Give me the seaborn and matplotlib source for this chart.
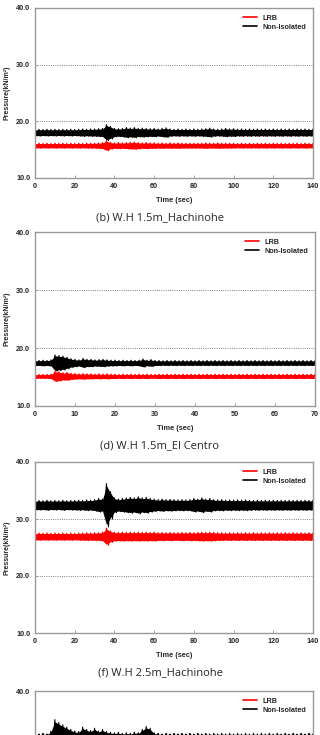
import numpy as np
import pandas as pd
import matplotlib
matplotlib.use("Agg")
import matplotlib.pyplot as plt
import seaborn as sns
from matplotlib.lines import Line2D

# 包络幅值 (kN/m²)
# Hachinohe: 每 2 秒一个值, El Centro: 每 1 秒一个值
hach15_lrb_mean = 15.7
hach15_non_mean = 18.0
hach15_non_amp = [.55, .60, .55, .60, .55, .60, .55, .60, .55, .60,
                  .55, .60, .65, .60, .65, .65, .70, .75, 1.40, 1.10,
                  .75, .70, .75, .90, .80, .90, .75, .80, .75, .70,
                  .75, .65, .75, .85, .65, .60, .65, .60, .65, .60,
                  .65, .60, .65, .70, .80, .65, .60, .65, .75, .65,
                  .70, .60, .65, .60, .65, .60, .65, .60, .65, .60,
                  .65, .60, .65, .60, .65, .60, .65, .60, .65, .60,
                  .65]
hach15_lrb_amp = [.40, .45, .40, .45, .40, .45, .40, .45, .40, .45,
                  .40, .45, .40, .45, .45, .45, .50, .55, .90, .60,
                  .50, .55, .50, .55, .60, .65, .55, .50, .55, .50,
                  .50, .45, .50, .45, .50, .45, .50, .45, .45, .45,
                  .45, .45, .45, .50, .45, .45, .50, .45, .45, .45,
                  .45, .40, .45, .40, .45, .40, .45, .40, .45, .40,
                  .45, .40, .45, .40, .45, .40, .45, .40, .45, .40,
                  .45]

elc15_lrb_mean = 15.1
elc15_non_mean = 17.4
elc15_non_amp = [.45, .45, .50, .45, .55, 1.40, 1.30, 1.20, 1.00, .75,
                 .65, .55, .80, .65, .65, .55, .60, .65, .55, .50,
                 .50, .45, .50, .45, .50, .45, .50, .70, .50, .60,
                 .45, .45, .40, .45, .40, .45, .40, .45, .40, .45,
                 .40, .45, .40, .45, .40, .45, .40, .45, .40, .45,
                 .40, .45, .40, .45, .40, .45, .40, .45, .40, .45,
                 .40, .45, .40, .45, .40, .45, .40, .45, .40, .45,
                 .40]
elc15_lrb_amp = [.35, .35, .35, .35, .40, .90, .80, .65, .70, .55,
                 .50, .45, .50, .45, .45, .40, .45, .40, .45, .40,
                 .40, .35, .40, .35, .40, .35, .40, .35, .40, .35,
                 .35, .40, .35, .40, .35, .40, .35, .40, .35, .40,
                 .35, .40, .35, .40, .35, .40, .35, .40, .35, .40,
                 .35, .40, .35, .40, .35, .40, .35, .40, .35, .40,
                 .35, .40, .35, .40, .35, .40, .35, .40, .35, .40,
                 .35]

hach25_lrb_mean = 26.9
hach25_non_mean = 32.4
hach25_non_amp = [.80, .85, .80, .90, .80, .85, .80, .90, .80, .85,
                  .85, .90, .85, .95, .90, 1.00, 1.20, 1.10, 3.80, 2.40,
                  1.30, 1.10, 1.20, 1.30, 1.40, 1.30, 1.50, 1.30, 1.40, 1.20,
                  1.10, 1.00, 1.10, 1.00, 1.05, 1.00, .95, 1.00, .95, 1.00,
                  1.20, 1.10, 1.30, 1.10, 1.20, 1.00, .95, 1.00, .90, .95,
                  .90, .95, .90, .95, .90, .85, .90, .85, .90, .85,
                  .90, .85, .90, .85, .90, .85, .90, .85, .90, .85,
                  .90]
hach25_lrb_amp = [.60, .65, .60, .65, .60, .65, .60, .65, .60, .65,
                  .60, .65, .65, .70, .65, .70, .70, .80, 1.50, 1.00,
                  .80, .75, .80, .75, .80, .75, .80, .75, .80, .75,
                  .80, .70, .75, .70, .75, .70, .70, .75, .70, .75,
                  .70, .75, .80, .75, .80, .75, .70, .70, .65, .70,
                  .65, .70, .65, .70, .65, .70, .65, .70, .65, .70,
                  .65, .70, .65, .70, .65, .70, .65, .70, .65, .70,
                  .65]

elc25_lrb_mean = 26.0
elc25_non_mean = 31.5
elc25_non_amp = [1.0, 1.0, 1.1, 1.0, 1.5, 3.5, 3.0, 2.6, 2.2, 1.8,
                 1.5, 1.4, 2.2, 1.8, 1.6, 2.0, 1.5, 1.8, 1.4, 1.3,
                 1.2, 1.3, 1.1, 1.2, 1.1, 1.3, 1.2, 1.8, 2.3, 2.0,
                 1.2, 1.1, 1.0, 1.1, 1.0, 1.1, 1.0, 1.1, 1.0, 1.1,
                 1.0, 1.1, 1.0, 1.1, 1.0, 1.1, 1.0, 1.1, 1.0, 1.1,
                 1.0, 1.1, 1.0, 1.1, 1.0, 1.1, 1.0, 1.1, 1.0, 1.1,
                 1.0, 1.1, 1.0, 1.1, 1.0, 1.1, 1.0, 1.1, 1.0, 1.1,
                 1.0]
elc25_lrb_amp = [.5, .5, .5, .5, .6, 1.6, 1.4, 1.1, 1.0, .9,
                 .8, .7, .9, .8, .7, .8, .7, .7, .6, .6,
                 .6, .6, .6, .6, .6, .6, .6, .8, .9, .8,
                 .6, .5, .6, .5, .6, .5, .6, .5, .6, .5,
                 .6, .5, .6, .5, .6, .5, .6, .5, .6, .5,
                 .6, .5, .6, .5, .6, .5, .6, .5, .6, .5,
                 .6, .5, .6, .5, .6, .5, .6, .5, .6, .5,
                 .6]

captions = ["(b) W.H 1.5m_Hachinohe", "(d) W.H 1.5m_El Centro",
            "(f) W.H 2.5m_Hachinohe", "(h) W.H 2.5m_El Centro"]
y_ticks = [10, 20, 30, 40]


def trace(mean, amp, step):
    # 上下包络交替连线，形成密集振荡带
    amp = np.asarray(amp)
    n = len(amp)
    t = np.repeat(np.arange(n) * step, 2) + np.tile([0, step / 2], n)
    v = mean + np.repeat(amp, 2) * np.tile([1, -1], n)
    return t, v


def draw_band(ax, mean, amp, step, color):
    amp = np.asarray(amp)
    tc = np.arange(len(amp)) * step
    ax.fill_between(tc, mean - 0.9 * amp, mean + 0.9 * amp, color=color, lw=0)
    t, v = trace(mean, amp, step)
    sns.lineplot(x=t, y=v, color=color, lw=0.8, ax=ax, estimator=None,
                 sort=False, legend=False)


sns.set_theme(style="white")
plt.rcParams['font.family'] = ['Liberation Sans', 'DejaVu Sans']

fig = plt.figure(figsize=(3.2, 7.35), dpi=100)
W, H = 320, 735

# (top px, bottom px, right px, xmax, xstep, lrb, non, step)
panels = [
    (8, 178, 313, 140, 20, (hach15_lrb_mean, hach15_lrb_amp), (hach15_non_mean, hach15_non_amp), 2),
    (232, 406, 315, 70, 10, (elc15_lrb_mean, elc15_lrb_amp), (elc15_non_mean, elc15_non_amp), 1),
    (462, 633, 313, 140, 20, (hach25_lrb_mean, hach25_lrb_amp), (hach25_non_mean, hach25_non_amp), 2),
    (691, 863, 313, 70, 10, (elc25_lrb_mean, elc25_lrb_amp), (elc25_non_mean, elc25_non_amp), 1),
]

handles = [Line2D([], [], color='red', lw=1.2), Line2D([], [], color='black', lw=1.2)]

left = 35
for i, (top, bot, right, xmax, xstep, lrb, non, step) in enumerate(panels):
    ax = fig.add_axes([left / W, 1 - bot / H, (right - left) / W, (bot - top) / H])
    draw_band(ax, lrb[0], lrb[1], step, 'red')
    draw_band(ax, non[0], non[1], step, 'black')

    ax.set_xlim(0, xmax)
    ax.set_ylim(10, 40)
    ax.set_xticks(range(0, xmax + 1, xstep))
    ax.set_yticks(y_ticks)
    for y in (20, 30):
        ax.axhline(y, color='#555555', lw=0.6, ls=':', zorder=0)
    for s in ax.spines.values():
        s.set_color('#999999')
        s.set_linewidth(1.0)
    ax.tick_params(direction='in', length=2, width=0.6, color='#999999',
                   labelsize=5.2, pad=3.5, bottom=True, left=True)
    last = i == len(panels) - 1
    if last:
        # 最后一个图被裁切，只露出顶部
        ax.set_yticklabels(['', '', '', '40.0'])
        ax.set_xticklabels([])
    else:
        ax.set_yticklabels([f"{y:.1f}" for y in y_ticks])
        ax.set_xlabel('Time (sec)', fontsize=5.3, fontweight='bold', labelpad=5)
        ax.set_ylabel('Pressure(kN/m²)', fontsize=5.0, fontweight='bold', labelpad=4)
        fig.text(0.5, 1 - (bot + 40) / H, captions[i], ha='center', va='center',
                 fontsize=8, family=['Open Sans', 'DejaVu Sans'])
    for lab in ax.get_xticklabels() + ax.get_yticklabels():
        lab.set_fontweight('bold')
    ax.legend(handles, ['LRB', 'Non-Isolated'], loc='upper right', frameon=False,
              prop={'size': 5.2, 'weight': 'bold'},
              handlelength=2.0, handletextpad=0.8, labelspacing=0.3,
              borderaxespad=0.5)

fig.savefig('out.png', dpi=100)
